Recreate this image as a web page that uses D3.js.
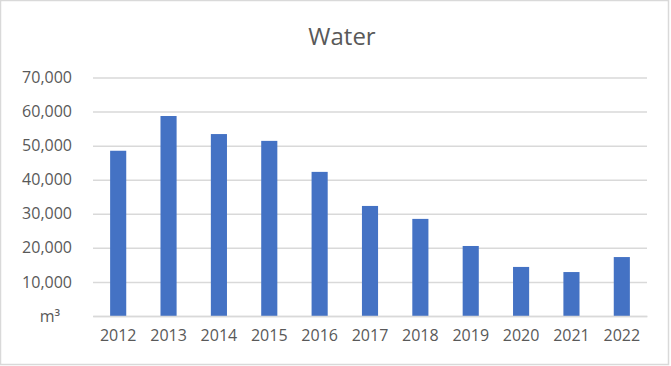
<!DOCTYPE html>
<html lang="en">
<head>
<meta charset="UTF-8">
<title>Water</title>
<script src="https://d3js.org/d3.v7.min.js"></script>
<style>
  body { margin: 0; background: #fff; font-family: "Open Sans", "Noto Sans", sans-serif; }
  svg text { fill: #595959; }
</style>
</head>
<body>
<svg width="671" height="366"></svg>
<script>
  const years = ["2012", "2013", "2014", "2015", "2016", "2017", "2018", "2019", "2020", "2021", "2022"];
  const water = [48500, 58700, 53400, 51400, 42300, 32300, 28500, 20550, 14400, 12900, 17300];
  const yTicks = [0, 10000, 20000, 30000, 40000, 50000, 60000, 70000];

  const width = 671, height = 366;
  const margin = {top: 77.5, right: 24, bottom: 50, left: 93};
  const svg = d3.select("svg");

  // chart area border
  svg.append("rect")
    .attr("x", 0.5).attr("y", 0.5)
    .attr("width", 668).attr("height", 364)
    .attr("fill", "#fff")
    .attr("stroke", "#d9d9d9")
    .attr("stroke-width", 1.5);

  const x = d3.scaleBand()
    .domain(years)
    .range([margin.left, width - margin.right])
    .paddingInner(0.68)
    .paddingOuter(0.34);

  const y = d3.scaleLinear()
    .domain([0, 70000])
    .range([height - margin.bottom, margin.top]);

  // gridlines + y labels
  const yAxis = svg.append("g")
    .attr("transform", `translate(${margin.left},0)`)
    .call(d3.axisLeft(y)
      .tickValues(yTicks)
      .tickSize(-(width - margin.right - margin.left))
      .tickPadding(21)
      .tickFormat(d => d === 0 ? "m³" : d3.format(",")(d)));
  yAxis.select(".domain").remove();
  yAxis.selectAll(".tick line").attr("stroke", "#d9d9d9").attr("stroke-width", 1.5);
  yAxis.selectAll(".tick text")
    .attr("font-size", 16)
    .attr("font-family", "Open Sans, Noto Sans, sans-serif")
    .attr("dx", d => d === 0 ? -12 : 0);

  // bars
  svg.append("g")
    .selectAll("rect")
    .data(water)
    .join("rect")
    .attr("x", (d, i) => x(years[i]))
    .attr("y", d => y(d))
    .attr("width", x.bandwidth())
    .attr("height", d => y(0) - y(d))
    .attr("fill", "#4472c4");

  // x axis
  const xAxis = svg.append("g")
    .attr("transform", `translate(0,${height - margin.bottom})`)
    .call(d3.axisBottom(x).tickSize(0).tickPadding(14));
  xAxis.select(".domain").attr("stroke", "#d9d9d9").attr("stroke-width", 1.5);
  xAxis.selectAll(".tick text")
    .attr("font-size", 16)
    .attr("font-family", "Open Sans, Noto Sans, sans-serif");

  // title
  svg.append("text")
    .attr("x", 342)
    .attr("y", 45)
    .attr("text-anchor", "middle")
    .attr("font-size", 24)
    .text("Water");
</script>
</body>
</html>
